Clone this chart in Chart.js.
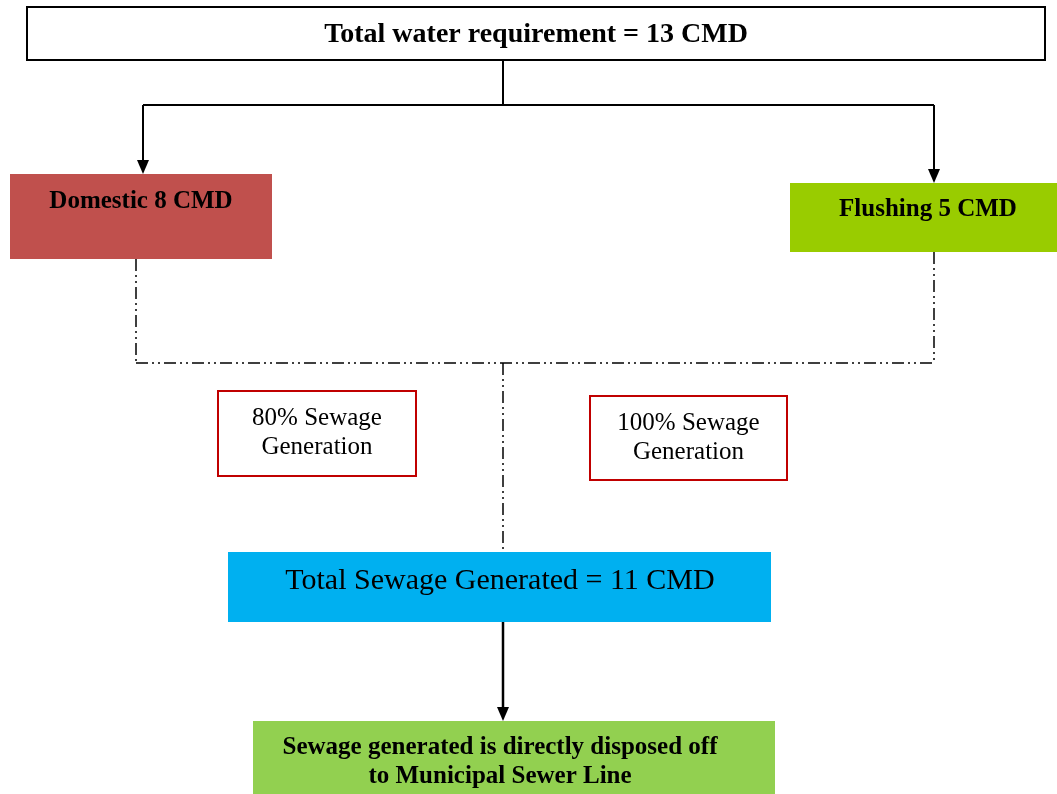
<!DOCTYPE html>
<html>
<head>
<meta charset="utf-8">
<script src="https://cdn.jsdelivr.net/npm/chart.js@4"></script>
<style>
  html, body { margin: 0; padding: 0; background: #fff; }
  #flow { display: block; }
</style>
</head>
<body>
<canvas id="flow" width="1057" height="794"></canvas>
<script>
// values of the flow chart
const totalWater = 13;
const uses = ['Domestic', 'Flushing'];
const useCMD = [8, 5];
const sewagePct = [80, 100];
const totalSewage = 11;
const disposalText = ['Sewage generated is directly disposed off', 'to Municipal Sewer Line'];

// layout of the boxes in page units [x1, y1, x2, y2]
const topBox = [27, 7, 1045, 60];
const useBoxes = [[10, 174, 272, 259], [790, 183, 1057, 252]];
const pctBoxes = [[218, 391, 416, 476], [590, 396, 787, 480]];
const sewageBox = [228, 552, 771, 622];
const disposalBox = [253, 721, 775, 794];
const useColors = ['#C0504D', '#99CC00'];

const serif = '"Liberation Serif", "Times New Roman", serif';

function drawFlow(chart) {
    const ctx = chart.ctx;
    const xs = chart.scales.x, ys = chart.scales.y;
    const px = v => xs.getPixelForValue(v);
    const py = v => ys.getPixelForValue(v);

    function rect(b, fill, stroke, lw) {
        const x = px(b[0]), y = py(b[1]), w = px(b[2]) - x, h = py(b[3]) - y;
        if (fill) { ctx.fillStyle = fill; ctx.fillRect(x, y, w, h); }
        if (stroke) { ctx.strokeStyle = stroke; ctx.lineWidth = lw; ctx.setLineDash([]); ctx.strokeRect(x, y, w, h); }
    }
    function text(lines, cx, cy, lh, font) {
        ctx.fillStyle = '#000';
        ctx.font = font;
        ctx.textAlign = 'center';
        ctx.textBaseline = 'middle';
        lines.forEach((t, i) => ctx.fillText(t, px(cx), py(cy + i * lh)));
    }
    function line(pts, dash, lw) {
        ctx.strokeStyle = '#000';
        ctx.lineWidth = lw;
        ctx.setLineDash(dash);
        ctx.beginPath();
        pts.forEach((p, i) => i ? ctx.lineTo(px(p[0]), py(p[1])) : ctx.moveTo(px(p[0]), py(p[1])));
        ctx.stroke();
        ctx.setLineDash([]);
    }
    function arrowHead(x, y) {
        ctx.fillStyle = '#000';
        ctx.beginPath();
        ctx.moveTo(px(x), py(y));
        ctx.lineTo(px(x - 6), py(y - 14));
        ctx.lineTo(px(x + 6), py(y - 14));
        ctx.closePath();
        ctx.fill();
    }

    ctx.save();
    // top box
    rect(topBox, '#fff', '#000', 2);
    text(['Total water requirement = ' + totalWater + ' CMD'], 536, 35, 0, 'bold 28px ' + serif);

    // split arrows
    const cx = 503;
    const armX = [143, 934];
    line([[cx, topBox[3]], [cx, 105]], [], 2);
    line([[armX[0], 105], [armX[1], 105]], [], 2);
    armX.forEach((ax, i) => {
        line([[ax, 105], [ax, useBoxes[i][1] - 10]], [], 2);
        arrowHead(ax, useBoxes[i][1]);
    });

    // use boxes
    useBoxes.forEach((b, i) => {
        rect(b, useColors[i]);
        text([uses[i] + ' ' + useCMD[i] + ' CMD'], i ? 928 : 141, i ? 210 : 202, 0, 'bold 25px ' + serif);
    });

    // dash-dot-dot collectors
    const dd = [12, 4, 2, 4, 2, 4];
    const dropX = [136, 934];
    line([[dropX[0], useBoxes[0][3]], [dropX[0], 363]], dd, 1.5);
    line([[dropX[1], useBoxes[1][3]], [dropX[1], 363]], dd, 1.5);
    line([[dropX[0], 363], [dropX[1], 363]], dd, 1.5);
    line([[cx, 363], [cx, sewageBox[1]]], dd, 1.5);

    // percentage boxes
    pctBoxes.forEach((b, i) => {
        rect(b, '#fff', '#C00000', 2);
        const mid = (b[1] + b[3]) / 2;
        text([sewagePct[i] + '% Sewage', 'Generation'], (b[0] + b[2]) / 2, mid - 15, 29, '25px ' + serif);
    });

    // total sewage
    rect(sewageBox, '#00B0F0');
    text(['Total Sewage Generated = ' + totalSewage + ' CMD'], 500, 581, 0, '30px ' + serif);

    // arrow to disposal
    line([[cx, sewageBox[3]], [cx, disposalBox[1] - 10]], [], 2.5);
    arrowHead(cx, disposalBox[1]);

    rect(disposalBox, '#92D050');
    text(disposalText, 500, 748, 29, 'bold 25px ' + serif);
    ctx.restore();
}

new Chart(document.getElementById('flow'), {
    type: 'scatter',
    data: { datasets: [{ data: [], pointRadius: 0 }] },
    options: {
        responsive: false,
        animation: false,
        layout: { padding: 0 },
        plugins: { legend: { display: false }, tooltip: { enabled: false } },
        scales: {
            x: { type: 'linear', min: 0, max: 1057, display: false },
            y: { type: 'linear', min: 0, max: 794, reverse: true, display: false }
        }
    },
    plugins: [{ id: 'flow', afterDraw: drawFlow }]
});
</script>
</body>
</html>
